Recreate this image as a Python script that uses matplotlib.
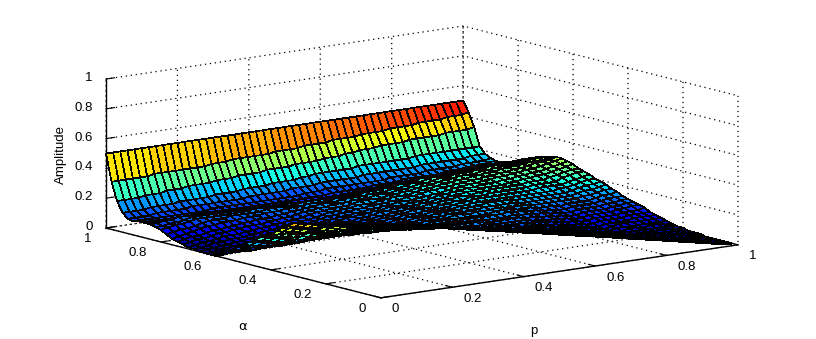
import numpy as np
import matplotlib
matplotlib.use("Agg")
import matplotlib.pyplot as plt
from mpl_toolkits.mplot3d import proj3d

p_cols = [i / 50 for i in range(51)]
alpha_rows = [1 - i / 50 for i in range(51)]
# amplitude in hundredths: one list per p column, alpha from 1 down to 0
amp = [
[50,32,20,13,10,9,10,10,10,9,8,6,4,3,2,1,1,0,0,0,0,2,5,7,10,12,15,17,20,22,24,27,30,32,35,36,37,37,38,38,39,40,41,42,43,44,45,46,47,48,49],
[50,32,20,13,10,9,9,10,10,9,9,7,5,4,3,2,1,1,0,0,0,2,4,6,9,11,14,16,19,21,23,26,29,31,34,35,36,36,37,37,38,39,40,41,42,43,44,45,46,47,48],
[50,32,20,13,10,9,9,10,11,10,10,8,6,5,4,3,2,1,1,1,1,2,4,6,8,10,13,15,18,20,23,25,28,30,33,34,35,36,37,37,38,39,40,41,42,43,44,44,45,46,47],
[50,32,20,13,10,9,9,10,11,10,10,8,7,5,4,3,3,2,1,1,1,2,3,5,7,9,12,14,17,19,22,24,27,29,32,33,35,36,36,37,38,39,40,40,41,42,43,44,44,45,46],
[50,32,21,14,11,9,9,10,12,11,11,9,8,6,5,4,3,2,2,2,2,2,3,5,7,9,11,13,16,18,21,23,26,28,31,32,34,35,36,37,38,39,40,40,41,42,43,43,44,45,46],
[50,32,21,14,11,9,9,10,12,12,12,10,9,7,6,5,4,3,2,2,2,3,4,5,7,9,11,13,15,18,21,23,25,28,30,32,33,34,35,36,37,38,39,40,41,41,42,43,43,44,45],
[50,33,21,14,11,9,9,10,12,12,12,11,9,7,6,5,4,3,3,3,3,3,4,5,6,8,10,12,14,17,20,22,24,27,29,31,32,33,34,35,36,37,38,39,40,40,41,42,43,43,44],
[50,33,22,14,11,9,9,10,12,12,12,11,10,8,7,5,4,4,3,3,3,4,5,6,7,8,10,12,14,16,19,21,23,25,28,29,31,32,33,34,35,36,37,38,38,39,40,41,42,42,43],
[50,33,22,15,11,9,9,10,12,12,12,11,10,8,7,6,5,4,4,4,4,4,5,6,7,8,10,12,14,16,18,20,22,24,26,28,29,31,32,33,34,35,36,36,37,38,39,40,41,41,42],
[50,33,22,15,12,9,9,10,12,12,12,12,10,9,8,6,5,5,4,4,4,5,6,7,8,9,10,12,14,16,17,19,21,23,25,26,28,29,31,32,33,33,34,35,36,37,38,39,40,40,41],
[50,33,23,15,12,9,9,10,12,12,12,12,11,9,8,7,6,5,5,5,5,5,6,7,8,9,10,12,13,15,17,18,20,22,23,25,26,28,29,30,31,32,33,34,35,36,37,38,38,39,40],
[50,33,23,15,12,10,9,10,12,12,12,12,11,10,8,7,6,6,5,5,5,6,6,7,8,9,10,12,13,15,16,18,19,21,23,24,26,27,28,29,30,31,32,33,34,35,36,37,37,38,39],
[50,33,23,15,12,10,9,9,11,12,12,12,11,10,9,8,7,6,6,6,6,6,7,7,8,9,10,12,13,14,16,18,19,20,22,23,25,26,27,28,29,30,31,32,33,34,35,35,36,37,38],
[50,33,23,16,12,10,9,9,11,12,13,12,12,10,9,8,8,7,7,6,6,7,7,8,9,9,10,12,13,14,16,17,19,20,21,23,24,25,26,27,28,29,30,31,32,33,34,34,35,36,37],
[50,34,24,16,12,10,9,9,11,12,13,13,12,11,10,9,8,8,7,7,7,7,8,8,9,10,11,12,13,14,15,17,18,20,21,22,23,24,25,26,27,28,29,30,31,32,33,33,34,35,36],
[50,34,24,16,12,10,9,9,10,12,13,13,12,11,10,9,9,8,8,8,8,8,8,9,9,10,11,12,13,14,15,16,18,19,20,21,23,24,25,26,27,28,29,30,31,31,32,33,34,34,35],
[50,34,24,16,12,10,9,9,10,12,13,13,13,12,11,10,9,9,9,9,9,9,9,9,10,10,11,12,13,14,15,16,17,18,20,21,22,23,24,25,26,27,28,29,30,30,31,32,33,33,34],
[50,35,25,17,13,10,9,9,10,12,13,13,13,12,12,11,10,10,10,9,9,9,10,10,10,10,11,12,13,14,15,16,17,18,19,20,22,23,24,25,25,26,27,28,29,29,30,31,32,32,33],
[50,35,25,17,13,10,9,8,10,12,13,13,13,13,12,12,11,11,10,10,10,10,10,10,10,10,11,12,13,14,15,16,16,18,19,20,21,22,23,24,25,26,26,27,28,28,29,30,31,31,32],
[50,35,25,17,13,10,9,8,10,12,13,14,14,13,13,12,12,11,11,11,10,10,10,10,10,11,11,12,13,14,14,15,16,17,18,19,20,21,22,23,24,24,25,26,27,27,28,29,30,30,31],
[50,35,25,17,13,10,9,8,9,11,13,14,14,14,13,13,12,12,11,11,11,11,11,11,11,11,11,12,12,13,14,15,16,17,18,19,20,20,21,22,23,23,24,25,26,26,27,28,29,29,30],
[50,35,26,18,13,10,9,8,9,11,13,14,14,14,14,13,13,12,12,12,11,11,11,11,11,11,12,12,12,13,14,15,15,16,17,18,19,19,20,21,22,22,23,24,25,25,26,27,28,28,29],
[50,35,26,18,13,10,9,8,9,11,13,14,14,14,14,13,13,13,12,12,12,12,12,12,12,12,12,12,12,13,13,14,15,15,16,17,18,18,19,20,21,21,22,23,24,24,25,26,27,27,28],
[50,36,26,18,14,10,9,8,9,11,13,14,15,15,14,14,14,13,13,13,13,12,12,12,12,12,12,12,12,13,13,14,14,14,15,16,16,17,18,19,20,20,21,22,23,23,24,25,26,26,27],
[50,36,26,18,14,11,9,8,10,12,13,14,15,15,15,15,14,14,13,13,13,13,13,13,13,13,13,13,13,13,13,13,13,13,14,14,15,16,17,18,19,19,20,21,22,22,23,24,25,25,26],
[50,36,27,19,14,11,9,8,10,12,13,14,15,15,15,15,14,14,14,14,14,13,13,13,13,13,13,13,13,13,13,13,13,13,13,14,15,15,16,17,18,18,19,20,21,21,22,23,24,24,25],
[50,36,27,19,14,11,9,8,10,12,14,15,15,15,15,15,15,14,14,14,14,14,14,13,13,13,13,13,13,13,13,13,13,13,13,14,15,15,16,16,17,17,18,19,20,20,21,22,23,23,24],
[50,37,27,20,15,12,10,9,10,12,14,15,16,16,16,15,15,15,15,14,14,14,14,14,14,14,13,13,13,13,13,13,12,12,13,13,14,14,15,15,16,16,17,18,19,19,20,21,22,22,23],
[50,37,27,20,15,12,10,9,11,13,14,15,16,16,16,16,16,15,15,15,14,14,14,14,14,14,14,14,13,13,13,13,12,12,12,12,13,13,14,14,15,15,16,17,18,18,19,20,21,21,22],
[50,37,28,20,15,12,10,9,11,13,14,16,16,16,16,16,16,16,15,15,15,15,14,14,14,14,14,14,13,13,13,12,12,12,12,12,12,13,13,14,14,15,15,16,17,17,18,19,20,20,21],
[50,37,28,20,15,12,10,9,11,13,15,16,17,17,17,17,16,16,16,15,15,15,15,14,14,14,14,13,13,13,12,12,11,11,11,11,12,12,13,13,14,14,15,15,16,16,17,18,19,19,20],
[50,38,28,20,15,12,10,10,12,14,15,16,17,17,17,17,17,17,16,16,16,16,15,15,15,15,14,14,13,13,12,12,11,11,11,11,11,12,12,12,13,13,14,14,15,15,16,17,18,18,19],
[50,38,29,20,15,12,10,10,12,14,15,17,18,18,18,18,18,18,17,17,16,16,16,16,15,15,14,14,13,13,12,12,11,11,10,10,11,11,11,11,12,12,13,13,14,14,15,16,17,17,18],
[50,38,29,21,16,12,11,11,12,14,15,17,18,19,19,19,18,18,17,17,17,17,16,16,16,15,15,14,14,13,12,12,11,11,10,10,10,10,11,11,11,12,12,13,13,14,14,15,16,16,17],
[50,38,30,21,16,12,11,11,13,14,16,18,19,19,19,19,19,19,18,18,17,17,17,17,16,16,15,15,14,14,13,12,11,10,10,9,9,10,10,10,11,11,12,12,13,13,14,14,15,15,16],
[50,39,30,21,16,12,11,12,13,15,16,18,20,20,20,20,20,19,19,18,18,17,17,17,16,16,15,14,14,13,12,11,10,10,9,9,9,9,9,9,10,10,11,11,12,12,13,13,14,14,15],
[50,39,30,21,16,13,11,12,13,15,17,19,20,21,21,21,20,20,19,19,18,18,17,17,16,16,15,14,13,13,12,11,10,9,8,8,8,8,8,8,9,9,10,10,11,11,12,12,13,13,14],
[50,39,31,21,16,13,12,12,14,15,17,19,20,21,21,21,21,20,20,19,19,18,18,17,16,16,15,14,13,12,11,10,9,9,8,7,7,7,7,7,8,8,9,9,10,10,11,11,12,12,13],
[50,39,31,21,16,13,12,12,14,15,17,19,20,21,22,22,21,21,20,20,19,19,18,17,16,15,14,14,13,12,11,10,9,8,7,6,6,6,6,6,7,7,8,8,9,9,10,10,11,11,12],
[50,40,31,21,16,13,12,12,14,16,18,19,21,21,22,22,22,21,21,20,19,19,18,17,16,15,14,13,12,11,10,9,8,7,6,6,5,5,5,5,6,6,7,7,8,8,9,9,10,10,11],
[50,40,31,21,16,13,12,12,14,16,18,20,21,22,22,22,22,22,21,20,19,19,18,17,16,15,14,13,12,11,10,9,8,7,6,5,5,4,4,4,5,5,6,6,7,7,8,8,9,9,10],
[50,40,32,22,17,14,12,12,14,16,18,20,21,22,23,23,23,22,22,21,20,19,18,17,16,15,14,13,12,10,9,8,7,6,5,4,4,3,3,4,4,4,5,5,6,6,7,7,8,8,9],
[50,40,32,22,17,14,12,12,14,16,18,20,21,22,23,23,23,23,22,21,20,19,18,17,16,15,14,13,11,10,9,8,7,6,5,4,3,3,3,3,3,3,4,4,5,5,6,6,7,7,8],
[50,41,32,22,17,14,13,13,14,16,18,20,21,23,24,24,24,23,23,22,21,20,19,18,16,15,14,13,12,11,10,9,8,7,6,5,4,4,3,3,3,3,3,3,4,4,5,5,6,6,7],
[50,41,32,22,17,14,13,13,15,17,19,21,22,23,24,24,24,24,23,22,21,20,19,18,16,15,14,13,12,11,10,9,8,7,6,5,5,4,4,3,3,3,3,3,3,3,4,4,5,5,6],
[50,41,32,22,17,14,13,13,15,17,19,21,22,23,24,24,25,24,24,23,22,20,19,18,17,15,14,13,12,11,10,9,8,7,6,5,5,4,4,3,3,3,3,3,3,3,3,3,4,4,5],
[50,41,33,22,17,15,14,14,15,17,19,21,22,23,24,25,25,25,24,23,22,21,19,18,17,16,15,14,12,11,10,9,8,7,6,5,5,4,3,3,3,2,2,2,2,2,2,3,3,3,4],
[50,42,33,22,17,15,14,14,15,17,19,21,22,23,25,25,26,26,25,24,23,22,21,19,18,17,16,14,13,12,11,10,9,8,7,6,5,4,4,3,3,2,2,2,1,1,2,2,2,2,3],
[50,42,33,22,18,15,14,14,15,17,18,20,22,24,25,26,26,26,26,25,24,23,22,20,19,18,16,15,14,13,11,10,9,8,7,6,5,4,4,3,3,2,2,1,1,1,1,1,1,1,2],
[50,42,33,22,18,15,15,14,15,17,18,20,22,24,25,26,26,27,27,26,25,24,23,21,20,18,17,16,14,13,12,11,10,8,7,6,5,4,3,3,2,2,1,1,1,1,1,1,1,1,1],
[50,43,34,22,18,16,15,15,16,17,18,20,22,24,25,26,27,28,28,27,26,24,23,22,20,19,18,16,15,13,12,11,10,9,7,6,5,4,3,2,2,1,1,1,0,0,0,0,0,0,0],
]
ticks = [0, 0.2, 0.4, 0.6, 0.8, 1]
tick_labels = ["0", "0.2", "0.4", "0.6", "0.8", "1"]

W, H = 816, 339
plt.rcParams["font.family"] = ["Liberation Sans", "DejaVu Sans"]
fig = plt.figure(figsize=(W/100, H/100), dpi=100, facecolor="white")
ax = fig.add_axes([0.2, 0.0, 500/W, 500/H], projection="3d")
ax.set_proj_type("ortho")
ax.view_init(elev=11.2, azim=-127.4)
ax.set_box_aspect((450, 453, 152))
ax.set_xlim(0, 1); ax.set_ylim(0, 1); ax.set_zlim(0, 1)

Z = np.array(amp, dtype=float).T[::-1] / 100.0
P, A = np.meshgrid(p_cols, alpha_rows[::-1])
colors = plt.get_cmap("jet")(np.clip(Z / 0.48, 0, 1))
ax.plot_surface(P, A, Z, facecolors=colors, rstride=1, cstride=1, shade=False,
                edgecolor="black", linewidth=0.5, antialiased=False)

for axis in (ax.xaxis, ax.yaxis, ax.zaxis):
    axis.set_ticks(ticks)
    axis.set_ticklabels([""] * len(ticks))
    axis.set_pane_color((1, 1, 1, 1))
    axis.pane.set_edgecolor("white")
    axis.line.set_color("black")
    axis.line.set_linewidth(1.0)
    axis._axinfo["grid"].update(color="black", linestyle=(0, (1, 3)), linewidth=0.9)
    axis._axinfo["tick"].update(inward_factor=0.0, outward_factor=0.3)
ax.zaxis.set_ticks_position("upper")

def px(x, y, z):
    a, b, _z = proj3d.proj_transform(x, y, z, ax.get_proj())
    q = ax.transData.transform((a, b))
    return q[0], H - q[1]

for _ in range(3):
    fig.canvas.draw()
    l = px(0, 1, 0); r = px(1, 0, 0)
    s = (738 - 106) / (r[0] - l[0])
    pos = ax.get_position()
    cx = (pos.x0 + pos.x1) / 2 * W; cy = (1 - (pos.y0 + pos.y1) / 2) * H
    nw = pos.width * W * s
    ncx = cx + ((106 + 738) / 2 - (l[0] + r[0]) / 2)
    ncy = cy + (228 - l[1])
    ax.set_position([(ncx - nw/2)/W, 1 - (ncy + nw/2)/H, nw/W, nw/H])
fig.canvas.draw()

FS = 9.5
def label(x, y, s, **kw):
    fig.text(x / W, 1 - y / H, s, fontsize=FS, va="center", **kw)

for v, s in zip(ticks, tick_labels):
    bx, by = px(v, 0, 0)
    label(bx + 11, by + 11.5, s, ha="left")
    bx, by = px(0, v, 0)
    label(bx - 14.5, by + 11, s, ha="right")
    bx, by = px(0, 1, v)
    label(bx - 13.5, by - 1, s, ha="right")

label(243, 327, "\u03b1", ha="center", family="DejaVu Sans")
label(534, 331, "p", ha="center")
label(61, 154, "Amplitude", ha="center", rotation=90)
fig.savefig("out.png", dpi=100)
